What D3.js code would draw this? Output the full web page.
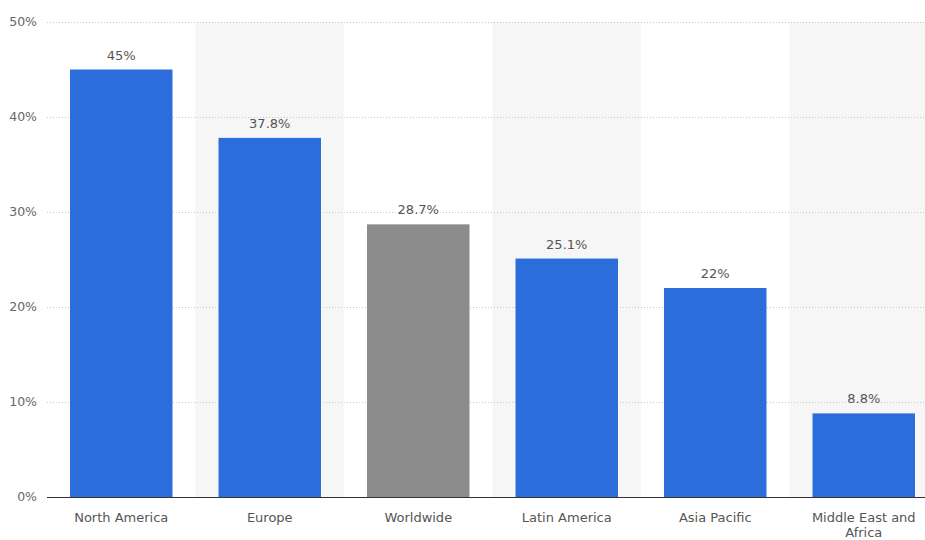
<!DOCTYPE html>
<meta charset="utf-8">
<head>
  <title>Share by region</title>
  <script src="https://d3js.org/d3.v7.min.js"></script>
</head>
<style>
body { margin: 0; background: #fff; }
text { font-family: "DejaVu Sans", sans-serif; }
.grid line { stroke: #c8c8c8; stroke-dasharray: 1,2; }
.ylab { fill: #666; font-size: 12.5px; }
.xlab { fill: #555; font-size: 13px; }
.val { fill: #555; font-size: 13px; }
</style>
<body>
<script>
// data
var regions = ["North America", "Europe", "Worldwide", "Latin America", "Asia Pacific", "Middle East and Africa"]
var shares = [45, 37.8, 28.7, 25.1, 22, 8.8]
var valueLabels = ["45%", "37.8%", "28.7%", "25.1%", "22%", "8.8%"]
var yTicks = [0, 10, 20, 30, 40, 50]

var width = 925,
  height = 540

var svg = d3.select("body").append("svg")
    .attr("width", width)
    .attr("height", height)

var x = d3.scaleBand()
    .domain(regions)
    .range([47, 938])
    .paddingInner(0.31)
    .paddingOuter(0.155)

var y = d3.scaleLinear()
    .domain([0, 50])
    .range([497, 22])

// alternating shaded bands
var step = x.step()
svg.selectAll(".band")
    .data(regions.filter(function(d, i){ return i % 2 == 1 }))
  .enter().append("rect")
    .attr("class", "band")
    .attr("x", function(d){ return x(d) - (step - x.bandwidth()) / 2 })
    .attr("y", y(50))
    .attr("width", step)
    .attr("height", y(0) - y(50))
    .style("fill", "#f6f6f6")

// gridlines
var grid = svg.append("g").attr("class", "grid")
grid.selectAll("line")
    .data(yTicks.slice(1))
  .enter().append("line")
    .attr("x1", 47)
    .attr("x2", width)
    .attr("y1", function(d){ return y(d) + 0.5 })
    .attr("y2", function(d){ return y(d) + 0.5 })

svg.selectAll(".ylab")
    .data(yTicks)
  .enter().append("text")
    .attr("class", "ylab")
    .attr("x", 37)
    .attr("y", function(d){ return y(d) + 4 })
    .style("text-anchor", "end")
    .text(function(d){ return d + "%" })

// bars
svg.selectAll(".bar")
    .data(regions)
  .enter().append("rect")
    .attr("class", "bar")
    .attr("x", function(d){ return x(d) })
    .attr("y", function(d, i){ return y(shares[i]) })
    .attr("width", x.bandwidth())
    .attr("height", function(d, i){ return y(0) - y(shares[i]) })
    .style("fill", function(d){ return d == "Worldwide" ? "#8c8c8c" : "#2b6ddb" })

svg.selectAll(".val")
    .data(regions)
  .enter().append("text")
    .attr("class", "val")
    .attr("x", function(d){ return x(d) + x.bandwidth() / 2 })
    .attr("y", function(d, i){ return y(shares[i]) - 10 })
    .style("text-anchor", "middle")
    .text(function(d, i){ return valueLabels[i] })

// baseline
svg.append("line")
    .attr("x1", 47)
    .attr("x2", width)
    .attr("y1", y(0) + 0.5)
    .attr("y2", y(0) + 0.5)
    .style("stroke", "#333")
    .style("stroke-width", 1.2)

// category labels, wrapped the way the picture wraps them
var lines = {"Middle East and Africa": ["Middle East and", "Africa"]}
svg.selectAll(".xlab")
    .data(regions)
  .enter().append("text")
    .attr("class", "xlab")
    .attr("x", function(d){ return x(d) + x.bandwidth() / 2 })
    .attr("y", 522)
    .style("text-anchor", "middle")
    .each(function(d){
      var t = d3.select(this)
      var parts = lines[d] || [d]
      parts.forEach(function(p, i){
        t.append("tspan")
          .attr("x", x(d) + x.bandwidth() / 2)
          .attr("dy", i == 0 ? 0 : 15)
          .text(p)
      })
    })
</script>
</body>
</html>
